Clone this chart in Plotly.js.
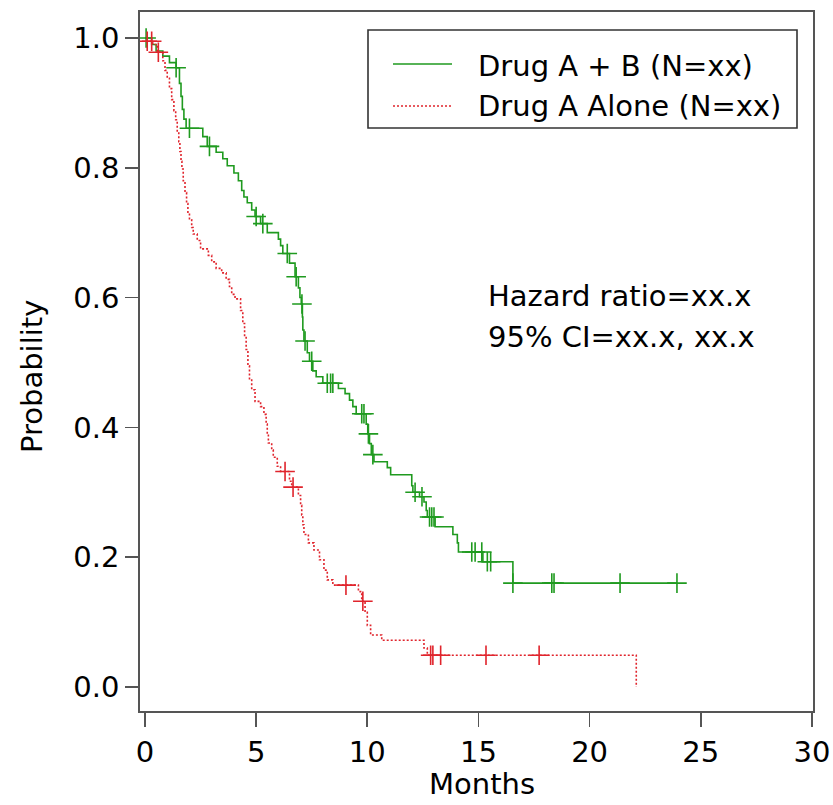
<!DOCTYPE html>
<html>
<head>
<meta charset="utf-8">
<script src="https://cdn.plot.ly/plotly-3.0.1.min.js"></script>
<style>html,body{margin:0;padding:0;background:#fff;}#chart{width:833px;height:805px;}</style>
</head>
<body>
<div id="chart"></div>
<script>
// Drug A + B: Kaplan-Meier step times (months) and survival probability
const comboTime = [0, 0.3, 0.5, 0.8, 1.1, 1.4, 1.55, 1.62, 1.68, 1.75, 1.85, 2.6, 2.8, 3.2, 3.5, 3.7, 4.0, 4.2, 4.35, 4.45, 4.6, 4.8, 4.95, 5.2, 5.5, 6.0, 6.1, 6.2, 6.5, 6.75, 6.9, 6.97, 7.03, 7.08, 7.1, 7.15, 7.3, 7.4, 7.55, 7.7, 8.0, 8.7, 9.0, 9.2, 9.35, 9.5, 9.95, 10.02, 10.1, 10.18, 10.3, 10.9, 11.05, 12.0, 12.05, 12.35, 12.55, 12.65, 12.7, 13.05, 13.85, 14.05, 14.1, 15.2, 16.55, 23.93];
const comboSurv = [1.0, 0.99, 0.98, 0.972, 0.962, 0.954, 0.93, 0.91, 0.89, 0.875, 0.861, 0.848, 0.833, 0.824, 0.814, 0.803, 0.792, 0.78, 0.765, 0.755, 0.746, 0.735, 0.725, 0.714, 0.70, 0.69, 0.68, 0.668, 0.653, 0.632, 0.615, 0.60, 0.59, 0.57, 0.55, 0.533, 0.515, 0.502, 0.487, 0.478, 0.468, 0.46, 0.452, 0.442, 0.432, 0.421, 0.405, 0.39, 0.375, 0.358, 0.347, 0.338, 0.327, 0.31, 0.30, 0.293, 0.285, 0.272, 0.262, 0.247, 0.235, 0.222, 0.208, 0.193, 0.16, 0.16];
const comboCensor = [0.05, 1.4, 2.0, 2.9, 5.0, 5.3, 6.4, 6.8, 7.06, 7.2, 7.5, 8.2, 8.35, 8.45, 9.75, 9.85, 10.05, 10.25, 12.15, 12.46, 12.8, 12.9, 13.0, 14.7, 14.85, 15.15, 15.4, 15.55, 16.55, 18.3, 18.4, 21.37, 23.93];

// Drug A alone
const aloneTime = [0, 0.1, 0.35, 0.55, 0.8, 0.9, 1.0, 1.1, 1.2, 1.3, 1.38, 1.45, 1.52, 1.57, 1.62, 1.66, 1.72, 1.8, 1.87, 1.93, 2.0, 2.1, 2.17, 2.35, 2.5, 2.85, 3.0, 3.2, 3.45, 3.65, 3.8, 3.9, 4.05, 4.3, 4.4, 4.48, 4.55, 4.63, 4.7, 4.8, 4.95, 5.2, 5.35, 5.45, 5.5, 5.55, 5.7, 5.77, 5.95, 6.1, 6.5, 6.6, 6.9, 7.0, 7.05, 7.1, 7.15, 7.35, 7.6, 7.85, 8.05, 8.2, 8.45, 9.6, 9.75, 9.9, 10.0, 10.15, 10.65, 12.55, 12.7, 22.1];
const aloneSurv = [1.0, 0.995, 0.99, 0.978, 0.965, 0.95, 0.938, 0.922, 0.905, 0.888, 0.874, 0.855, 0.84, 0.825, 0.81, 0.798, 0.78, 0.762, 0.745, 0.73, 0.72, 0.708, 0.698, 0.688, 0.675, 0.665, 0.655, 0.645, 0.638, 0.628, 0.617, 0.605, 0.598, 0.58, 0.56, 0.54, 0.52, 0.495, 0.475, 0.458, 0.44, 0.432, 0.42, 0.405, 0.39, 0.376, 0.365, 0.354, 0.34, 0.332, 0.317, 0.308, 0.295, 0.28, 0.265, 0.25, 0.235, 0.222, 0.211, 0.196, 0.18, 0.165, 0.157, 0.147, 0.132, 0.115, 0.095, 0.08, 0.072, 0.06, 0.049, 0.0];
const aloneCensor = [0.1, 0.3, 0.6, 6.3, 6.66, 9.04, 9.8, 12.85, 12.95, 13.3, 15.34, 17.73];

const xTicks = [0, 5, 10, 15, 20, 25, 30];
const yTicks = [0.0, 0.2, 0.4, 0.6, 0.8, 1.0];
const legendLabels = ["Drug A + B (N=xx)", "Drug A Alone (N=xx)"];
const statLines = ["Hazard ratio=xx.x", "95% CI=xx.x, xx.x"];
const xTitle = "Months";
const yTitle = "Probability";

function survAt(times, surv, t) {
  let s = surv[0];
  for (let i = 0; i < times.length; i++) { if (times[i] <= t) s = surv[i]; }
  return s;
}

const GREEN = '#1f9a1f', RED = '#e0242c';
const FONT = 'DejaVu Sans, sans-serif';

const traces = [
  {x: comboTime, y: comboSurv, mode: 'lines', line: {shape: 'hv', color: GREEN, width: 1.6}, name: legendLabels[0], showlegend: false},
  {x: aloneTime, y: aloneSurv, mode: 'lines', line: {shape: 'hv', color: RED, width: 1.6, dash: '2px,2px'}, name: legendLabels[1], showlegend: false},
  {x: comboCensor, y: comboCensor.map(t => survAt(comboTime, comboSurv, t)), mode: 'markers',
   marker: {symbol: 'cross-thin', size: 14, color: GREEN, line: {color: GREEN, width: 1.6}}, showlegend: false, name: 'censored'},
  {x: aloneCensor, y: aloneCensor.map(t => survAt(aloneTime, aloneSurv, t)), mode: 'markers',
   marker: {symbol: 'cross-thin', size: 14, color: RED, line: {color: RED, width: 1.6}}, showlegend: false, name: 'censored'}
];

const L = 140, T = 12, R = 20, B = 94, W = 833, H = 805;
const pw = W - L - R, ph = H - T - B;
const px = v => (v - L) / pw;
const py = v => (H - B - v) / ph;
const txt = {family: FONT, size: 29, color: '#000'};

const layout = {
  width: W, height: H,
  margin: {l: L, r: R, t: T, b: B},
  paper_bgcolor: '#fff', plot_bgcolor: '#fff',
  font: txt,
  showlegend: false,
  xaxis: {
    range: [-0.225, 30.05], tickvals: xTicks, ticktext: xTicks.map(String),
    ticks: 'outside', ticklen: 14, tickwidth: 1.6, tickcolor: '#555',
    showline: true, mirror: true, linecolor: '#555', linewidth: 1.8,
    showgrid: false, zeroline: false,
    tickfont: txt
  },
  yaxis: {
    range: [-0.037, 1.04], tickvals: yTicks, ticktext: yTicks.map(v => v.toFixed(1)),
    ticks: 'outside', ticklen: 13, tickwidth: 1.6, tickcolor: '#555',
    showline: true, mirror: true, linecolor: '#555', linewidth: 1.8,
    showgrid: false, zeroline: false,
    tickfont: txt
  },
  shapes: [
    {type: 'rect', xref: 'paper', yref: 'paper', x0: px(368), x1: px(797), y0: py(128), y1: py(30), line: {color: '#333', width: 1.6}, fillcolor: 'rgba(0,0,0,0)'},
    {type: 'line', xref: 'paper', yref: 'paper', x0: px(393), x1: px(452), y0: py(64), y1: py(64), line: {color: GREEN, width: 1.6}},
    {type: 'line', xref: 'paper', yref: 'paper', x0: px(393), x1: px(452), y0: py(106), y1: py(106), line: {color: RED, width: 1.6, dash: '2px,2px'}}
  ],
  annotations: [
    {xref: 'paper', yref: 'paper', x: px(476), y: py(66), xanchor: 'left', yanchor: 'middle', text: legendLabels[0], showarrow: false, font: txt},
    {xref: 'paper', yref: 'paper', x: px(476), y: py(106), xanchor: 'left', yanchor: 'middle', text: legendLabels[1], showarrow: false, font: txt},
    {xref: 'paper', yref: 'paper', x: px(486), y: py(296), xanchor: 'left', yanchor: 'middle', text: statLines[0], showarrow: false, font: txt},
    {xref: 'paper', yref: 'paper', x: px(486), y: py(337), xanchor: 'left', yanchor: 'middle', text: statLines[1], showarrow: false, font: txt},
    {xref: 'paper', yref: 'paper', x: px(482), y: py(784), xanchor: 'center', yanchor: 'middle', text: xTitle, showarrow: false, font: txt},
    {xref: 'paper', yref: 'paper', x: px(32), y: py(376), xanchor: 'center', yanchor: 'middle', textangle: -90, text: yTitle, showarrow: false, font: txt}
  ]
};

Plotly.newPlot('chart', traces, layout, {displayModeBar: false, staticPlot: true});
</script>
</body>
</html>
